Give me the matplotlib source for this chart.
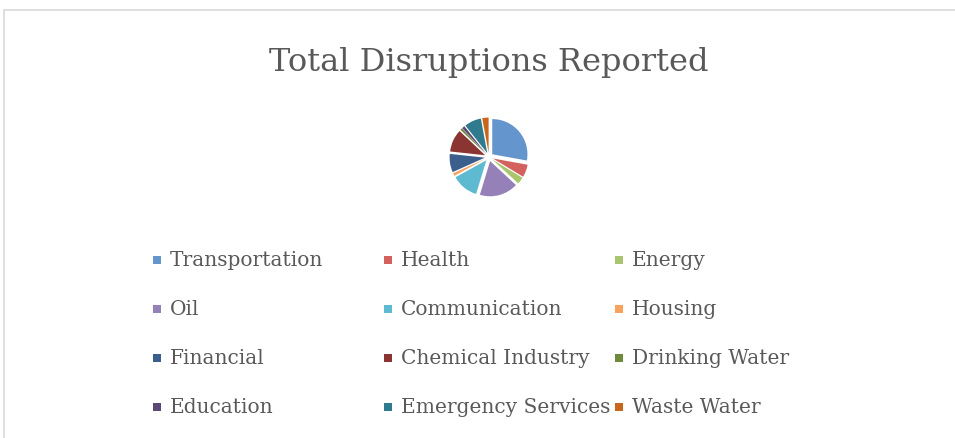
import matplotlib
matplotlib.use("Agg")
import matplotlib.pyplot as plt
from matplotlib.patches import Rectangle

labels = ["Transportation", "Health", "Energy", "Oil", "Communication", "Housing",
          "Financial", "Chemical Industry", "Drinking Water", "Education",
          "Emergency Services", "Waste Water"]
values = [86, 18, 10, 55, 38, 4, 26, 32, 3, 4, 24, 9]
colors = ["#6495CD", "#D3625F", "#A9C66E", "#9580B7", "#5DBAD1", "#F9A25E",
          "#3A5F8C", "#8B3533", "#6F8A3A", "#5C4874", "#2F7A8D", "#C8661B"]

W, H = 955, 439
fig = plt.figure(figsize=(W / 100, H / 100), dpi=100)
fig.patch.set_facecolor("white")

# chart frame
fig.patches.append(Rectangle((4 / W, -0.1), 1.2, 1 - 11 / H + 0.1, transform=fig.transFigure,
                             fill=False, edgecolor="#d9d9d9", linewidth=1.2))

fig.text(489 / W, 1 - 62 / H, "Total Disruptions Reported", ha="center", va="center",
         fontsize=23, color="#595959", family="DejaVu Serif")

cx, cy, r = 489, 158, 44
ax = fig.add_axes([(cx - r) / W, 1 - (cy + r) / H, 2 * r / W, 2 * r / H])
ax.pie(values, colors=colors, startangle=90, counterclock=False,
       explode=[0.12] * len(values), wedgeprops=dict(linewidth=0))
ax.set_aspect("equal")
ax.axis("off")

col_x = [157, 388, 619]
row_y = [261, 310, 359, 408]
for i, (lab, col) in enumerate(zip(labels, colors)):
    x = col_x[i % 3]
    y = row_y[i // 3]
    fig.patches.append(Rectangle(((x - 4) / W, 1 - (y + 4) / H), 8 / W, 8 / H,
                                 transform=fig.transFigure, facecolor=col, edgecolor="none"))
    fig.text((x + 13) / W, 1 - y / H, lab, ha="left", va="center",
             fontsize=14.5, color="#595959", family="DejaVu Serif")

fig.savefig("out.png", dpi=100, facecolor="white")
